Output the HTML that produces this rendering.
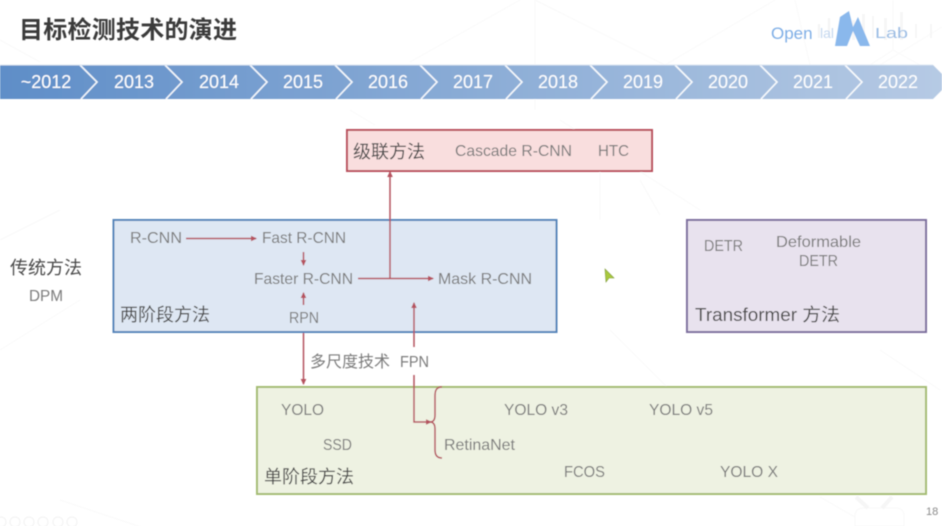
<!DOCTYPE html>
<html lang="zh">
<head>
<meta charset="utf-8">
<title>目标检测技术的演进</title>
<style>
html,body{margin:0;padding:0;background:#fff;width:942px;height:526px;overflow:hidden}
svg{display:block}
text{font-family:"Liberation Sans","Noto Sans CJK SC",sans-serif}
.g{fill:#7b7b7b;font-size:16px}
.d{fill:#4a4a4a;font-size:18px}
.y{fill:#fff;font-size:18px;text-anchor:middle}
</style>
</head>
<body>
<svg width="942" height="526" viewBox="0 0 942 526" xmlns="http://www.w3.org/2000/svg">
<defs>
<linearGradient id="bar" x1="0" x2="942" y1="0" y2="0" gradientUnits="userSpaceOnUse">
<stop offset="0" stop-color="#5f8ec8"/>
<stop offset="1" stop-color="#b6cae4"/>
</linearGradient>
<filter id="b" x="-5%" y="-5%" width="110%" height="110%"><feGaussianBlur stdDeviation="0.5"/></filter>
<marker id="a" markerWidth="6" markerHeight="6" refX="5" refY="3" orient="auto" markerUnits="userSpaceOnUse"><path d="M0 0.2L6 3L0 5.8Z" fill="#b5525f"/></marker>
</defs>
<g filter="url(#b)">
<g fill="none" stroke="#f9f9f9" stroke-width="1">
<path d="M0 40L40 62M410 62L520 0M535 0L665 65M665 65L775 0M535 0V110M942 27L880 65M795 0L810 65M893 0V50L870 65M893 50L920 65"/>
<path d="M0 240L60 210M0 350L80 300M560 120L700 210M600 130V220M610 330L680 400M940 390L880 350M60 500L150 530M820 497L860 520M350 110L375 125M640 180L660 215"/>
</g>

<text x="19" y="38" font-size="24" font-weight="700" fill="#3a3a3a" textLength="218">目标检测技术的演进</text>

<!-- logo -->
<g>
<path d="M852 20h3v20h-3zM862 14h3v26h-3zM872 16h2v22h-2zM884 18h3v22h-3zM900 12h3v28h-3zM915 24h2v14h-2zM930 24h2v14h-2z" fill="#f6f6f6"/>
<path d="M828 18h2v20h-2zM818 24h2v14h-2z" fill="#f4f4f4"/>
<text x="771" y="39" font-size="17" fill="#7eaee6">Open</text>
<path d="M835 46L840 17L849 11L853 27L858 17L870 46L860 46L853 31L847 46Z" fill="#8ab8ec"/>
<text x="820" y="38" font-size="14" fill="#c4d8f0">lal</text>
<text x="875" y="38" font-size="15" fill="#9cbde4" textLength="33" lengthAdjust="spacingAndGlyphs">Lab</text>
</g>

<!-- timeline -->
<path d="M0 65H933L942 74V90L933 99H0Z" fill="url(#bar)"/>
<g fill="none" stroke="#fff" stroke-opacity=".92" stroke-width="1.6">
<path d="M80 65L97 82L81 99"/><path d="M165 65L182 82L166 99"/><path d="M250 65L267 82L251 99"/>
<path d="M335 65L352 82L336 99"/><path d="M420 65L437 82L421 99"/><path d="M505 65L522 82L506 99"/>
<path d="M590 65L607 82L591 99"/><path d="M675 65L692 82L676 99"/><path d="M760 65L777 82L761 99"/>
<path d="M845 65L862 82L846 99"/>
</g>
<path d="M0 65H933" stroke="#dbe5f2" stroke-width="1" fill="none"/>
<g>
<text class="y" x="46" y="88">~2012</text><text class="y" x="134" y="88">2013</text><text class="y" x="219" y="88">2014</text>
<text class="y" x="303" y="88">2015</text><text class="y" x="388" y="88">2016</text><text class="y" x="473" y="88">2017</text>
<text class="y" x="558" y="88">2018</text><text class="y" x="643" y="88">2019</text><text class="y" x="728" y="88">2020</text>
<text class="y" x="813" y="88">2021</text><text class="y" x="898" y="88">2022</text>
</g>

<!-- boxes -->
<rect x="347" y="130" width="305" height="41" fill="#f9dede" stroke="#b9505c" stroke-width="2"/>
<rect x="113.500" y="220" width="443" height="112" fill="#dee7f3" stroke="#5585ba" stroke-width="2"/>
<rect x="687" y="220" width="239" height="112" fill="#e8e2ee" stroke="#7d6e9e" stroke-width="2"/>
<rect x="257" y="387" width="669" height="107" fill="#eef2e2" stroke="#a4bc72" stroke-width="2"/>

<!-- cascade -->
<text class="d" x="353" y="158">级联方法</text>
<text class="g" x="455" y="156" textLength="117" lengthAdjust="spacingAndGlyphs">Cascade R-CNN</text>
<text class="g" x="598" y="156" textLength="31" lengthAdjust="spacingAndGlyphs">HTC</text>

<!-- left -->
<text class="d" x="10" y="274">传统方法</text>
<text class="g" x="29" y="301" textLength="34" lengthAdjust="spacingAndGlyphs">DPM</text>

<!-- two-stage -->
<text class="g" x="130" y="243" textLength="52" lengthAdjust="spacingAndGlyphs">R-CNN</text>
<text class="g" x="262" y="243" textLength="84" lengthAdjust="spacingAndGlyphs">Fast R-CNN</text>
<text class="g" x="254" y="284" textLength="99" lengthAdjust="spacingAndGlyphs">Faster R-CNN</text>
<text class="g" x="438" y="284" textLength="94" lengthAdjust="spacingAndGlyphs">Mask R-CNN</text>
<text class="g" x="289" y="323" textLength="30" lengthAdjust="spacingAndGlyphs">RPN</text>
<text class="d" x="120" y="321">两阶段方法</text>

<!-- middle labels -->
<text class="g" x="310" y="367">多尺度技术</text>
<text class="g" x="400" y="367" textLength="29" lengthAdjust="spacingAndGlyphs">FPN</text>

<!-- transformer -->
<text class="g" x="704" y="251" textLength="39" lengthAdjust="spacingAndGlyphs">DETR</text>
<text class="g" x="776" y="247" textLength="85" lengthAdjust="spacingAndGlyphs">Deformable</text>
<text class="g" x="799" y="266" textLength="39" lengthAdjust="spacingAndGlyphs">DETR</text>
<text class="d" x="695" y="321" textLength="145" lengthAdjust="spacingAndGlyphs">Transformer 方法</text>

<!-- one-stage -->
<text class="g" x="281" y="415" textLength="43" lengthAdjust="spacingAndGlyphs">YOLO</text>
<text class="g" x="323" y="450" textLength="29" lengthAdjust="spacingAndGlyphs">SSD</text>
<text class="d" x="264" y="483">单阶段方法</text>
<text class="g" x="444" y="450" textLength="71" lengthAdjust="spacingAndGlyphs">RetinaNet</text>
<text class="g" x="504" y="415" textLength="64" lengthAdjust="spacingAndGlyphs">YOLO v3</text>
<text class="g" x="649" y="415" textLength="64" lengthAdjust="spacingAndGlyphs">YOLO v5</text>
<text class="g" x="564" y="477" textLength="41" lengthAdjust="spacingAndGlyphs">FCOS</text>
<text class="g" x="720" y="477" textLength="58" lengthAdjust="spacingAndGlyphs">YOLO X</text>

<!-- connectors -->
<g fill="none" stroke="#b5525f" stroke-width="1.500">
<path d="M186 238.500H256" marker-end="url(#a)"/>
<path d="M303.500 252V265" marker-end="url(#a)"/>
<path d="M303.500 305V293" marker-end="url(#a)"/>
<path d="M358 278.500H433" marker-end="url(#a)"/>
<path d="M390 278V172" marker-end="url(#a)"/>
<path d="M303.500 333V384" marker-end="url(#a)"/>
<path d="M414 347V303" marker-end="url(#a)"/>
<path d="M414 375V422H431" marker-end="url(#a)"/>
<path d="M442 387C436 387 435 391 435 396V415C435 420 433 422 430 422C433 422 435 424 435 429V450C435 455 437 458 442 458"/>
</g>

<!-- cursor -->
<path d="M605 269L614 278L609 278L606 282Z" fill="#a9c93c" stroke="#7e9a3a" stroke-width=".6"/>

<!-- footer -->
<g fill="none" stroke="#f2f2f2" stroke-width="1">
<circle cx="1" cy="522" r="5"/><circle cx="15" cy="522" r="5"/><circle cx="29" cy="522" r="5"/><circle cx="43" cy="522" r="5"/><circle cx="58" cy="522" r="5"/><circle cx="72" cy="522" r="5"/>
</g>
<path d="M855 526V516Q855 508 864 508H896Q904 508 904 516V526Z" fill="#fff" stroke="#f8f8f8"/>
<path d="M856 497L868 508M892 497L882 508" stroke="#f6f6f6" stroke-width="4" fill="none"/>
<text x="926" y="515" font-size="11" fill="#8a8a8a">18</text>
</g>
</svg>
</body>
</html>
